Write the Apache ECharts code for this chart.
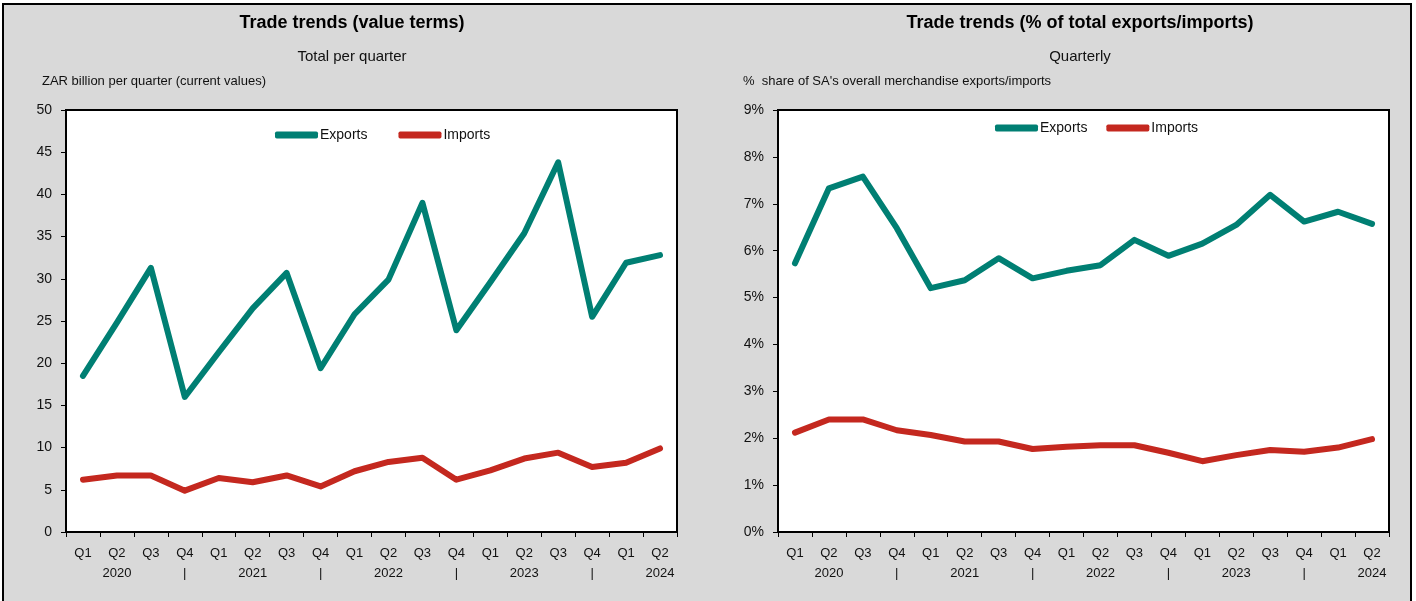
<!DOCTYPE html>
<html>
<head>
<meta charset="utf-8">
<script src="https://cdn.jsdelivr.net/npm/echarts@6/dist/echarts.min.js"></script>
<style>
html,body{margin:0;padding:0;background:#fff;}
#c{width:1416px;height:601px;}
</style>
</head>
<body>
<div id="c"></div>
<script>
// ---- data ----
const quarters = ['Q1','Q2','Q3','Q4','Q1','Q2','Q3','Q4','Q1','Q2','Q3','Q4','Q1','Q2','Q3','Q4','Q1','Q2'];
const yearRow  = ['','2020','','|','','2021','','|','','2022','','|','','2023','','|','','2024'];
const exportsValue = [18.5,24.8,31.3,16.0,21.3,26.5,30.7,19.4,25.8,29.9,39.0,23.9,29.6,35.4,43.8,25.5,31.9,32.8];
const importsValue = [6.2,6.7,6.7,4.9,6.4,5.9,6.7,5.4,7.2,8.3,8.8,6.2,7.3,8.7,9.4,7.7,8.2,9.9];
const exportsShare = [5.73,7.33,7.58,6.48,5.20,5.37,5.84,5.41,5.57,5.69,6.23,5.89,6.15,6.55,7.19,6.62,6.83,6.57];
const importsShare = [2.12,2.40,2.40,2.17,2.07,1.93,1.93,1.77,1.82,1.85,1.85,1.69,1.51,1.64,1.75,1.71,1.80,1.98];
const leftTicks = {min:0,max:50,interval:5};
const rightTicks = {min:0,max:9,interval:1};

const categories = quarters.map((q,i)=> q + '\n' + yearRow[i]);
const FONT = '"Liberation Sans Narrow","Arial Narrow","Liberation Sans",Arial,sans-serif';
const TEAL = '#007F73', RED = '#C4281F';

const chart = echarts.init(document.getElementById('c'));
function xAxis(gi){
  return {
    type:'category', gridIndex:gi, data:categories, boundaryGap:true,
    axisLine:{show:true,lineStyle:{color:'#000',width:2}},
    axisTick:{show:true,alignWithLabel:false,length:5,lineStyle:{color:'#000',width:1}},
    axisLabel:{interval:0,color:'#111',fontFamily:FONT,fontSize:13,lineHeight:20,margin:11},
    splitLine:{show:false}
  };
}
function yAxis(gi,t,fmt){
  return {
    type:'value', gridIndex:gi, min:t.min, max:t.max, interval:t.interval,
    axisLine:{show:true,lineStyle:{color:'#000',width:2}},
    axisTick:{show:true,length:5,lineStyle:{color:'#000',width:1}},
    axisLabel:{color:'#111',fontFamily:FONT,fontSize:14,margin:14,formatter:fmt},
    splitLine:{show:false}
  };
}
function line(name,data,color,xi){
  return {type:'line',name:name,data:data,xAxisIndex:xi,yAxisIndex:xi,symbol:'none',
    lineStyle:{color:color,width:6,cap:'round',join:'round'},itemStyle:{color:color},
    animation:false};
}
const option = {
  backgroundColor:'#fff',
  animation:false,
  graphic:[{type:'rect',z:-10,shape:{x:3,y:4,width:1408,height:610},style:{fill:'#D9D9D9',stroke:'#000',lineWidth:2}}],
  title:[
    {text:'Trade trends (value terms)',left:347,top:9,textAlign:'center',textStyle:{fontFamily:FONT,fontSize:18,fontWeight:'bold',color:'#000'}},
    {text:'Total per quarter',left:347,top:44,textAlign:'center',textStyle:{fontFamily:FONT,fontSize:15,fontWeight:'normal',color:'#111'}},
    {text:'ZAR billion per quarter (current values)',left:37,top:70,textStyle:{fontFamily:FONT,fontSize:13,fontWeight:'normal',color:'#111'}},
    {text:'Trade trends (% of total exports/imports)',left:1075,top:9,textAlign:'center',textStyle:{fontFamily:FONT,fontSize:18,fontWeight:'bold',color:'#000'}},
    {text:'Quarterly',left:1075,top:44,textAlign:'center',textStyle:{fontFamily:FONT,fontSize:15,fontWeight:'normal',color:'#111'}},
    {text:"%  share of SA's overall merchandise exports/imports",left:738,top:70,textStyle:{fontFamily:FONT,fontSize:13,fontWeight:'normal',color:'#111'}}
  ],
  legend:[
    {left:275,top:128,padding:0,icon:'roundRect',itemWidth:43,itemHeight:7,itemGap:31,
     data:['Exports','Imports'],textStyle:{fontFamily:FONT,fontSize:14,color:'#111',padding:[0,0,0,-3]}},
    {left:995,top:121,padding:0,icon:'roundRect',itemWidth:43,itemHeight:7,itemGap:15,
     data:['Exports ','Imports '],textStyle:{fontFamily:FONT,fontSize:14,color:'#111',padding:[0,0,0,-3]}}
  ],
  grid:[
    {left:66,top:110,width:611,height:422,show:true,backgroundColor:'#fff',borderColor:'#000',borderWidth:2},
    {left:778,top:110,width:611,height:422,show:true,backgroundColor:'#fff',borderColor:'#000',borderWidth:2}
  ],
  xAxis:[xAxis(0),xAxis(1)],
  yAxis:[yAxis(0,leftTicks,'{value}'),yAxis(1,rightTicks,'{value}%')],
  series:[
    line('Exports',exportsValue,TEAL,0),
    line('Imports',importsValue,RED,0),
    line('Exports ',exportsShare,TEAL,1),
    line('Imports ',importsShare,RED,1)
  ]
};
chart.setOption(option);
</script>
</body>
</html>
